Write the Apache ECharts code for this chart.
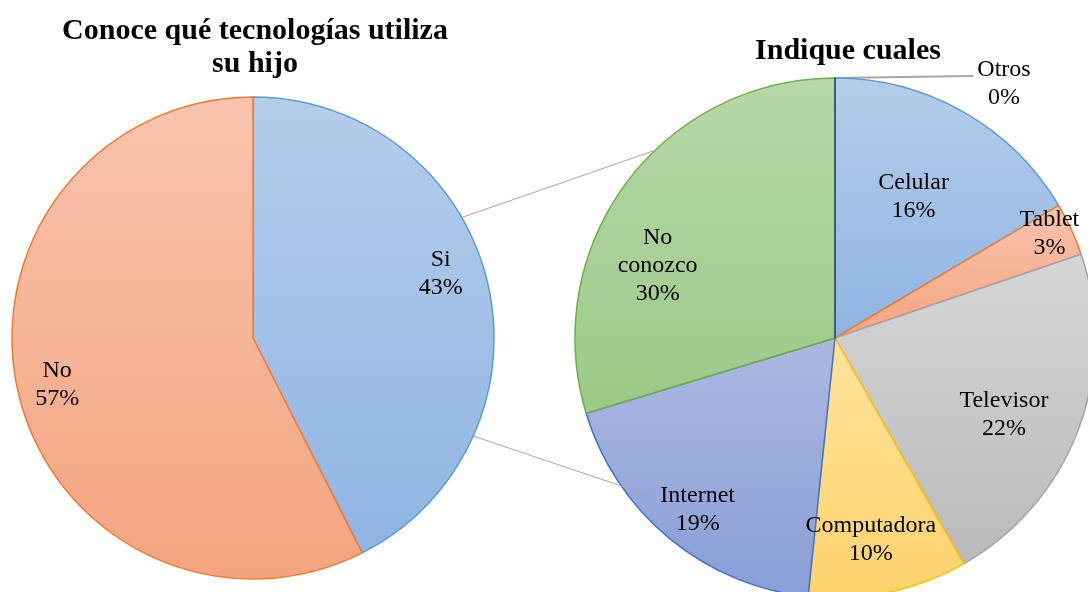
<!DOCTYPE html>
<html>
<head>
<meta charset="utf-8">
<script src="https://cdn.jsdelivr.net/npm/echarts@6/dist/echarts.min.js"></script>
<style>
html,body{margin:0;padding:0;background:#fff;}
#chart{width:1088px;height:592px;}
</style>
</head>
<body>
<div id="chart"></div>
<script>
// ---- data (counts; labels show rounded percentages) ----
const leftTitle = 'Conoce qué tecnologías utiliza\nsu hijo';
const rightTitle = 'Indique cuales';
const leftCategories = ['Si', 'No'];
const leftValues = [91, 123];
const rightCategories = ['Celular', 'Tablet', 'Televisor', 'Computadora', 'Internet', 'No conozco', 'Otros'];
const rightValues = [15, 3, 20, 9, 17, 27, 0];

// ---- styles ----
const FONT = 'Liberation Serif';
const L = {cx: 253, cy: 338, r: 241};
const R = {cx: 835, cy: 338, r: 260};
const LABEL_DY = 2;
const leftStyles = [
  {top: '#b5cdea', bottom: '#8fb4e3', border: '#5b9bd5'},
  {top: '#f8c4ae', bottom: '#f4a47f', border: '#ed7d31'}
];
const rightStyles = [
  {top: '#b5cdea', bottom: '#8fb4e3', border: '#5b9bd5'},
  {top: '#f8c4ae', bottom: '#f4a47f', border: '#ed7d31'},
  {top: '#d6d6d6', bottom: '#bababa', border: '#a5a5a5'},
  {top: '#ffe29c', bottom: '#ffd36c', border: '#ffc000'},
  {top: '#acb8e2', bottom: '#889ed7', border: '#4472c4'},
  {top: '#b7d8a9', bottom: '#9bc987', border: '#70ad47'},
  {top: '#264478', bottom: '#264478', border: '#264478'}
];
const leftLabelFrac = [0.826, 0.834];
const leftLabelShift = [-6, 0.5];
const rightLabelFrac = [0.63, 0.92, 0.71, 0.78, 0.84, 0.74, 0];
const rightLabelShift = [-1, -1.6, 3, 1.7, -0.6, -13.8, 0];

function grad(s) {
  return new echarts.graphic.LinearGradient(0, 0, 0, 1, [
    {offset: 0, color: s.top}, {offset: 1, color: s.bottom}
  ]);
}

function makeLayout(values, P, fracs, shifts, otherIdx) {
  const total = values.reduce((a, b) => a + b, 0);
  return function (params) {
    const i = params.dataIndex;
    if (i === otherIdx) {
      return {
        x: P.cx + 169, y: P.cy - P.r + 6, align: 'center', verticalAlign: 'middle',
        labelLinePoints: [[P.cx, P.cy - P.r], [P.cx + 136, P.cy - P.r - 2], [P.cx + 138, P.cy - P.r - 2]]
      };
    }
    let cum = 0;
    for (let j = 0; j < i; j++) cum += values[j];
    const a = ((cum + values[i] / 2) / total * 360 + shifts[i]) * Math.PI / 180;
    return {
      x: P.cx + fracs[i] * P.r * Math.sin(a),
      y: P.cy - fracs[i] * P.r * Math.cos(a) + LABEL_DY,
      align: 'center', verticalAlign: 'middle'
    };
  };
}

const labelBase = {
  show: true, position: 'inside', color: '#000', fontFamily: FONT,
  fontSize: 24, lineHeight: 28,
  formatter: p => p.name.replace(' ', '\n') + '\n' + Math.round(p.percent) + '%'
};

const leftData = leftCategories.map((n, i) => ({
  name: n, value: leftValues[i],
  itemStyle: {color: grad(leftStyles[i]), borderColor: leftStyles[i].border, borderWidth: 1.5}
}));
const rightData = rightCategories.map((n, i) => {
  const d = {
    name: n, value: rightValues[i],
    itemStyle: {color: grad(rightStyles[i]), borderColor: rightStyles[i].border, borderWidth: 1.5}
  };
  if (rightValues[i] === 0) {
    d.label = {position: 'outside'};
    d.labelLine = {show: true, lineStyle: {color: '#a6a6a6', width: 2}};
  }
  return d;
});

// connector lines between the two pies (angles in degrees, math convention)
const connAngles = {leftTop: 30, leftBot: -24, rightTop: 133.8, rightBot: 219.9};
const rightBotFrac = 0.94;
function pt(P, deg, f) {
  const a = deg * Math.PI / 180;
  return [P.cx + (f || 1) * P.r * Math.cos(a), P.cy - (f || 1) * P.r * Math.sin(a)];
}
const p1 = pt(L, connAngles.leftTop), p2 = pt(R, connAngles.rightTop);
const p3 = pt(L, connAngles.leftBot), p4 = pt(R, connAngles.rightBot, rightBotFrac);

const chart = echarts.init(document.getElementById('chart'), null, {renderer: 'canvas'});
chart.setOption({
  backgroundColor: '#fff',
  animation: false,
  title: [
    {text: leftTitle, left: 255, top: 15, padding: 0, textAlign: 'center',
     textStyle: {fontFamily: FONT, fontWeight: 'bold', fontSize: 30, lineHeight: 33, color: '#000'}},
    {text: rightTitle, left: 848, top: 35, padding: 0, textAlign: 'center',
     textStyle: {fontFamily: FONT, fontWeight: 'bold', fontSize: 30, lineHeight: 33, color: '#000'}}
  ],
  graphic: [
    {type: 'line', z: 100, shape: {x1: p1[0], y1: p1[1], x2: p2[0], y2: p2[1]}, style: {stroke: '#a6a6a6', lineWidth: 1}},
    {type: 'line', z: 100, shape: {x1: p3[0], y1: p3[1], x2: p4[0], y2: p4[1]}, style: {stroke: '#a6a6a6', lineWidth: 1}}
  ],
  series: [
    {
      type: 'pie', center: [L.cx, L.cy], radius: [0, L.r], startAngle: 90, clockwise: true,
      avoidLabelOverlap: false, silent: true, minAngle: 0,
      label: labelBase, labelLine: {show: false},
      labelLayout: makeLayout(leftValues, L, leftLabelFrac, leftLabelShift, -1),
      data: leftData
    },
    {
      type: 'pie', center: [R.cx, R.cy], radius: [0, R.r], startAngle: 90, clockwise: true,
      avoidLabelOverlap: false, silent: true, minAngle: 0,
      label: labelBase, labelLine: {show: false},
      labelLayout: makeLayout(rightValues, R, rightLabelFrac, rightLabelShift, rightValues.indexOf(0)),
      data: rightData
    }
  ]
});
</script>
</body>
</html>
